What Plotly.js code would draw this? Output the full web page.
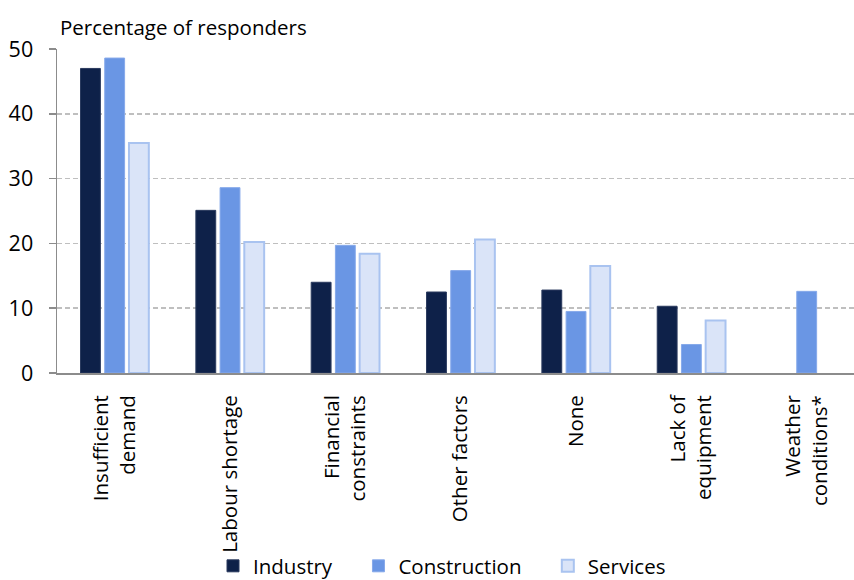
<!DOCTYPE html>
<html>
<head>
<meta charset="utf-8">
<script src="https://cdn.plot.ly/plotly-3.0.1.min.js"></script>
<style>html,body{margin:0;padding:0;background:#fff;}#chart{width:854px;height:580px;}</style>
</head>
<body>
<div id="chart"></div>
<script>
var categories = ["Insufficient<br>demand", "Labour shortage", "Financial<br>constraints", "Other factors", "None", "Lack of<br>equipment", "Weather<br>conditions*"];
var industry = [47.0, 25.1, 14.0, 12.5, 12.8, 10.3, null];
var construction = [48.6, 28.6, 19.7, 15.8, 9.5, 4.4, 12.6];
var services = [35.5, 20.2, 18.4, 20.6, 16.5, 8.1, null];
var seriesNames = ["Industry", "Construction", "Services"];
var yTicks = [0, 10, 20, 30, 40, 50];

var FONT = "Open Sans, Lato, sans-serif";
var PAD = "\u00a0\u00a0\u00a0\u00a0";

var traces = [
  {type: "bar", name: seriesNames[0] + PAD, x: categories, y: industry,
   marker: {color: "#0e2149", line: {color: "#2a3a5e", width: 1}}},
  {type: "bar", name: seriesNames[1] + PAD, x: categories, y: construction,
   marker: {color: "#6a96e4", line: {color: "#86a9ea", width: 1}}},
  {type: "bar", name: seriesNames[2], x: categories, y: services,
   marker: {color: "#dae4f8", line: {color: "#a9c3f0", width: 2}}}
];

var layout = {
  width: 854, height: 580,
  margin: {l: 57, r: 0, t: 49, b: 207, pad: 0, autoexpand: false},
  paper_bgcolor: "#ffffff", plot_bgcolor: "#ffffff",
  font: {family: FONT, color: "#000000", size: 20},
  barmode: "group", bargap: 0.37, bargroupgap: 0.18,
  showlegend: true,
  hovermode: false,
  title: {text: "Percentage of responders", xref: "container", yref: "container",
          x: 60/854, xanchor: "left", y: 1 - 28/580, yanchor: "middle",
          font: {family: FONT, size: 20.5, color: "#000"}},
  xaxis: {type: "category", range: [-0.5, 6.41], tickangle: -90,
          showline: true, linecolor: "#8c8c8c", linewidth: 2,
          ticks: "", showgrid: false, zeroline: false, ticklabelstandoff: 12,
          tickfont: {family: FONT, size: 20.5, color: "#000"}, automargin: false},
  yaxis: {range: [0, 50], tickvals: yTicks, ticktext: yTicks.map(String),
          showline: true, linecolor: "#8c8c8c", linewidth: 1.5,
          ticks: "outside", ticklen: 7, tickcolor: "#8c8c8c", tickwidth: 1.5,
          showgrid: true, gridcolor: "#bfbfbf", gridwidth: 1.5, griddash: "5px,3px",
          zeroline: false, ticklabelstandoff: 11,
          tickfont: {family: FONT, size: 21.5, color: "#000"}, automargin: false},
  legend: {orientation: "h", x: (442-57)/797, xanchor: "center",
           y: (373-566)/324, yanchor: "middle", bgcolor: "rgba(0,0,0,0)",
           font: {family: FONT, size: 20.5, color: "#000"},
           itemclick: false, traceorder: "normal", tracegroupgap: 0}
};

Plotly.newPlot("chart", traces, layout, {displayModeBar: false, staticPlot: true});
</script>
</body>
</html>
